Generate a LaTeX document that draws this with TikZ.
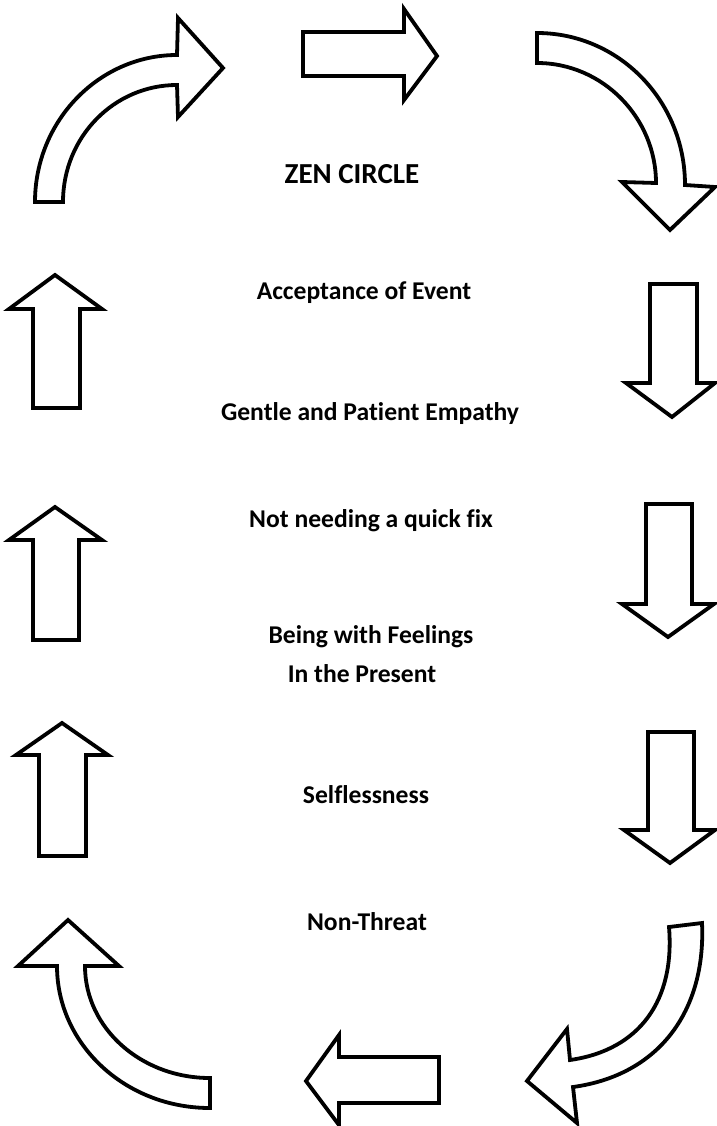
\documentclass[tikz,border=0pt]{standalone}
\usepackage{fontspec}
\setmainfont{Carlito}[Ligatures=NoCommon]
\begin{document}
\begin{tikzpicture}[x=1pt,y=-1pt,
  blockarrow/.style={draw=black, line width=3.8pt, fill=white, line join=miter},
  label/.style={font=\bfseries\fontsize{25.6}{30}\selectfont, anchor=base, inner sep=0pt},
  title/.style={font=\bfseries\fontsize{29}{34}\selectfont, anchor=base, inner sep=0pt}]
\useasboundingbox[fill=white] (0,0) rectangle (716,1126);

% top row: curved arrow, straight arrow, curved arrow
\draw[blockarrow] (35,202) .. controls (35,121) and (99,55) .. (177,55)
  -- (178,18) -- (223,68) -- (178,117) -- (177,85)
  .. controls (114,85) and (63,137) .. (63,202) -- cycle;
\draw[blockarrow] (303,32) -- (404,32) -- (404,9) -- (437,56) -- (404,100)
  -- (404,76) -- (303,76) -- cycle;
\draw[blockarrow] (537,33) .. controls (619,33) and (685,101) .. (685,185)
  -- (715,187) -- (670,230) -- (622,182) -- (656,183)
  .. controls (656,118) and (603,63) .. (537,63) -- cycle;

% right column: downward arrows
\draw[blockarrow] (650,284) -- (697,284) -- (697,383) -- (715,383) -- (672,417)
  -- (626,383) -- (650,383) -- cycle;
\draw[blockarrow] (646,504) -- (692,504) -- (692,604) -- (714,604) -- (668,637)
  -- (622,604) -- (646,604) -- cycle;
\draw[blockarrow] (648,732) -- (694,732) -- (694,830) -- (715,830) -- (670,863)
  -- (624,830) -- (648,830) -- cycle;

% bottom row: curved arrow, straight arrow, curved arrow
\draw[blockarrow] (669,927) -- (702,923) .. controls (706,1010) and (660,1075) .. (573,1087)
  -- (577,1123) -- (527,1081) -- (567,1029) -- (570,1060)
  .. controls (640,1050) and (675,1000) .. (669,927) -- cycle;
\draw[blockarrow] (439,1057) -- (339,1057) -- (339,1035) -- (306,1081) -- (339,1125)
  -- (339,1103) -- (439,1103) -- cycle;
\draw[blockarrow] (210,1108) .. controls (125,1108) and (57,1044) .. (57,966)
  -- (18,966) -- (68,920) -- (119,966) -- (85,966)
  .. controls (85,1028) and (141,1078) .. (210,1078) -- cycle;

% left column: upward arrows
\draw[blockarrow] (39,856) -- (39,755) -- (16,755) -- (62,723) -- (108,755)
  -- (86,755) -- (86,856) -- cycle;
\draw[blockarrow] (33,640) -- (33,540) -- (9,540) -- (55,507) -- (102,540)
  -- (79,540) -- (79,640) -- cycle;
\draw[blockarrow] (33,408) -- (33,309) -- (9,309) -- (55,275) -- (102,309)
  -- (80,309) -- (80,408) -- cycle;

% texts
\node[title] (zen) at (352,184) {ZEN CIRCLE};
\node[label] (accept) at (364,299) {Acceptance of Event};
\node[label] (gentle) at (370,420) {Gentle and Patient Empathy};
\node[label] (quick) at (371,527) {Not needing a quick fix};
\node[label] (being) at (371,643) {Being with Feelings};
\node[label] (present) at (362,682) {In the Present};
\node[label] (selfless) at (366,803) {Selflessness};
\node[label] (nonthreat) at (367,930) {Non-Threat};
\end{tikzpicture}
\end{document}
